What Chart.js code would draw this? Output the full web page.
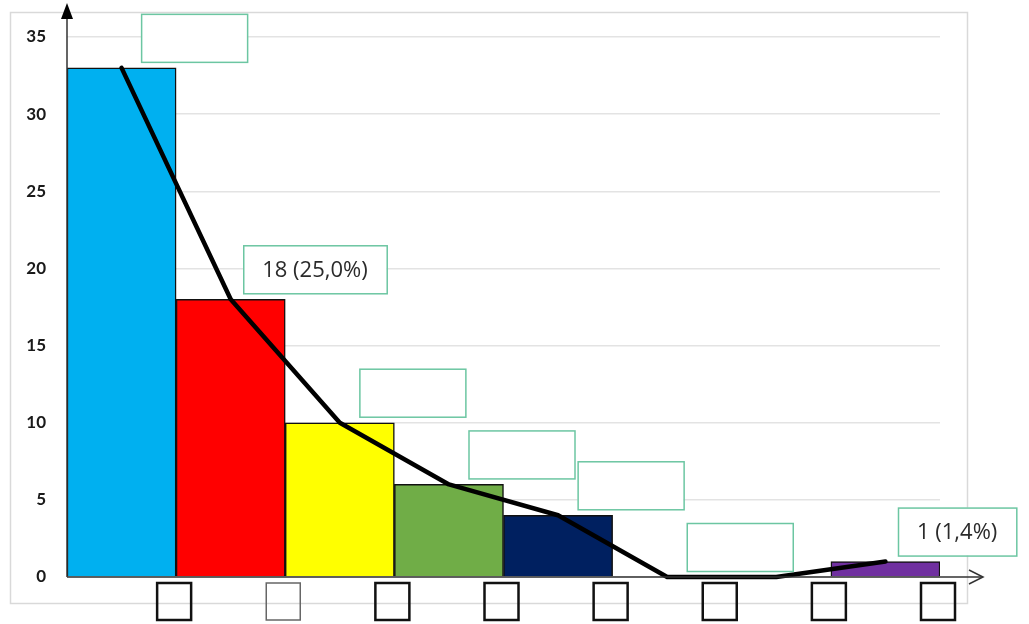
<!DOCTYPE html>
<html>
<head>
<meta charset="utf-8">
<script src="https://cdn.jsdelivr.net/npm/chart.js@4.4.1/dist/chart.umd.min.js"></script>
<style>
  html, body { margin: 0; padding: 0; background: #fff; }
  #wrap { width: 1029px; height: 624px; }
</style>
</head>
<body>
<div id="wrap"><canvas id="paretoChart" width="1029" height="624"></canvas></div>
<script>
// chart data
const categories = ['1', '2', '3', '4', '5', '6', '7', '8'];
const counts = [33, 18, 10, 6, 4, 0, 0, 1];
const barColors = ['#00b0f0', '#ff0000', '#ffff00', '#70ad47', '#002060', '#7f7f7f', '#7f7f7f', '#7030a0'];
// label boxes above the bars (null = no box)
const boxLabels = ['', '18 (25,0%)', '', '', '', '', null, '1 (1,4%)'];
const yTicks = [0, 5, 10, 15, 20, 25, 30, 35];

// frame, axes with arrows, label boxes, empty boxes under the axis
const decorations = {
  id: 'decorations',
  beforeDraw(chart) {
    const ctx = chart.ctx;
    ctx.save();
    ctx.strokeStyle = '#d9d9d9';
    ctx.lineWidth = 1.5;
    ctx.strokeRect(10.5, 12.5, 957, 591);
    ctx.restore();
  },
  afterDatasetsDraw(chart) {
    const ctx = chart.ctx;
    const xs = chart.scales.x, ys = chart.scales.y;
    const area = chart.chartArea;
    const half = (xs.getPixelForValue(1) - xs.getPixelForValue(0)) / 2;
    const y0 = ys.getPixelForValue(0);
    ctx.save();

    // axes
    ctx.strokeStyle = '#333';
    ctx.lineWidth = 1.5;
    ctx.beginPath();
    ctx.moveTo(area.left, y0);
    ctx.lineTo(area.left, 14);
    ctx.moveTo(area.left, y0);
    ctx.lineTo(982, y0);
    ctx.stroke();
    // y arrow (filled)
    ctx.fillStyle = '#000';
    ctx.beginPath();
    ctx.moveTo(area.left, 3);
    ctx.lineTo(area.left - 6, 19);
    ctx.lineTo(area.left + 6, 19);
    ctx.closePath();
    ctx.fill();
    // x arrow (open)
    ctx.beginPath();
    ctx.moveTo(969, y0 - 7);
    ctx.lineTo(983, y0);
    ctx.lineTo(969, y0 + 7);
    ctx.stroke();

    // label boxes
    ctx.font = '22px "Open Sans", Lato, sans-serif';
    ctx.textAlign = 'center';
    ctx.textBaseline = 'middle';
    boxLabels.forEach((lab, i) => {
      if (lab === null) return;
      const right = xs.getPixelForValue(i) + half;
      const top = ys.getPixelForValue(counts[i]);
      const w = lab ? ctx.measureText(lab).width + 38 : 106;
      const h = 48;
      const bx = lab ? right - 42 : right - 35;
      const by = top - 6 - h;
      ctx.fillStyle = '#fff';
      ctx.fillRect(bx, by, w, h);
      ctx.strokeStyle = '#6cc6a2';
      ctx.lineWidth = 1.5;
      ctx.strokeRect(bx + 0.5, by + 0.5, w, h);
      if (lab) {
        ctx.fillStyle = '#2b2b2b';
        ctx.fillText(lab, bx + w / 2, by + h / 2 + 1);
      }
    });

    // empty boxes below the x axis
    categories.forEach((c, i) => {
      const right = xs.getPixelForValue(i) + half;
      ctx.strokeStyle = i === 1 ? '#666' : '#111';
      ctx.lineWidth = i === 1 ? 1.5 : 2.5;
      ctx.strokeRect(right - 19, y0 + 6, 34, 37);
    });
    ctx.restore();
  }
};

const ctx = document.getElementById('paretoChart');
new Chart(ctx, {
  data: {
    labels: categories,
    datasets: [
      {
        type: 'line',
        data: counts,
        borderColor: '#000',
        borderWidth: 4.5,
        pointRadius: 0,
        tension: 0,
        borderJoinStyle: 'round',
        borderCapStyle: 'round',
        clip: false,
        order: 0
      },
      {
        type: 'bar',
        data: counts,
        backgroundColor: barColors,
        borderColor: '#111',
        borderWidth: 1.5,
        barPercentage: 1,
        categoryPercentage: 1,
        order: 1
      }
    ]
  },
  options: {
    responsive: false,
    animation: false,
    layout: { padding: { left: 0, top: 37, right: 89, bottom: 0 } },
    plugins: {
      legend: { display: false },
      tooltip: { enabled: false }
    },
    scales: {
      x: {
        grid: { display: false },
        border: { display: false },
        ticks: { display: false },
        afterFit(scale) { scale.height = 47; }
      },
      y: {
        min: 0,
        max: 35,
        afterBuildTicks(scale) { scale.ticks = yTicks.map(v => ({ value: v })); },
        grid: { color: '#e3e3e3', lineWidth: 1.5, drawTicks: false },
        border: { display: false },
        ticks: {
          padding: 21,
          color: '#1a1a1a',
          font: { family: 'Lato, "Liberation Sans", sans-serif', size: 17, weight: 'bold' }
        },
        afterFit(scale) { scale.width = 67; }
      }
    }
  },
  plugins: [decorations]
});
</script>
</body>
</html>
